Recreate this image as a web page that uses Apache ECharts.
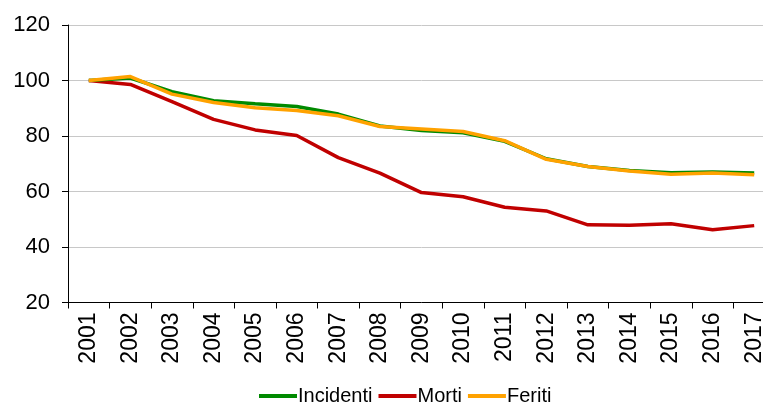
<!DOCTYPE html>
<html>
<head>
<meta charset="utf-8">
<script src="https://cdn.jsdelivr.net/npm/echarts@6/dist/echarts.min.js"></script>
<style>
  html, body { margin: 0; padding: 0; background: #fff; overflow: hidden; }
  /* più largo della finestra: il grafico originale è tagliato a destra */
  #chart { width: 776px; height: 404px; }
</style>
</head>
<body>
<div id="chart"></div>
<script>
// anni
const years = ['2001', '2002', '2003', '2004', '2005', '2006', '2007', '2008', '2009',
  '2010', '2011', '2012', '2013', '2014', '2015', '2016', '2017']
// indici (2001 = 100)
const incidenti = [100, 100.9, 96.0, 92.7, 91.6, 90.6, 87.9, 83.6, 82.0, 81.2, 78.1, 71.8, 69.0, 67.6, 66.8, 67.0, 66.7]
const morti = [100, 98.6, 92.4, 86.0, 82.2, 80.2, 72.2, 66.6, 59.6, 58.1, 54.3, 53.0, 48.0, 47.8, 48.4, 46.2, 47.7]
const feriti = [100, 101.4, 95.1, 92.1, 90.2, 89.2, 87.3, 83.4, 82.5, 81.6, 78.3, 71.6, 69.0, 67.4, 66.2, 66.7, 66.0]
const yTicks = { min: 20, max: 120, step: 20 }

const chart = echarts.init(document.getElementById('chart'))

const lineStyle = (color) => ({ width: 3.5, color: color })

const option = {
  animation: false,
  textStyle: { fontFamily: 'Liberation Sans, Arial, sans-serif' },
  grid: { left: 68, top: 25, right: 1, bottom: 101.5, containLabel: false },
  legend: {
    top: 381,
    left: 254,
    itemWidth: 38,
    itemHeight: 4,
    itemGap: 6,
    icon: 'rect',
    textStyle: { fontSize: 20, color: '#000', padding: [0, 0, 0, -4] },
    data: ['Incidenti', 'Morti', 'Feriti']
  },
  xAxis: {
    type: 'category',
    data: years,
    boundaryGap: true,
    axisLine: { lineStyle: { color: '#000', width: 1 } },
    axisTick: { show: true, length: 6, lineStyle: { color: '#000' } },
    axisLabel: { rotate: 90, fontSize: 23, color: '#000', margin: 10, interval: 0 }
  },
  yAxis: {
    type: 'value',
    min: yTicks.min,
    max: yTicks.max,
    interval: yTicks.step,
    axisLine: { show: true, lineStyle: { color: '#000', width: 1 } },
    axisTick: { show: true, length: 6, lineStyle: { color: '#000' } },
    axisLabel: { fontSize: 22, color: '#000', margin: 18 },
    splitLine: { lineStyle: { color: '#c8c8c8', width: 1 } }
  },
  series: [
    {
      name: 'Morti', type: 'line', data: morti,
      symbol: 'none', lineStyle: lineStyle('#c00000'), itemStyle: { color: '#c00000' }, z: 2
    },
    {
      name: 'Incidenti', type: 'line', data: incidenti,
      symbol: 'none', lineStyle: lineStyle('#008a00'), itemStyle: { color: '#008a00' }, z: 3
    },
    {
      name: 'Feriti', type: 'line', data: feriti,
      symbol: 'none', lineStyle: lineStyle('#ffa200'), itemStyle: { color: '#ffa200' }, z: 4
    }
  ]
}

chart.setOption(option)
</script>
</body>
</html>
